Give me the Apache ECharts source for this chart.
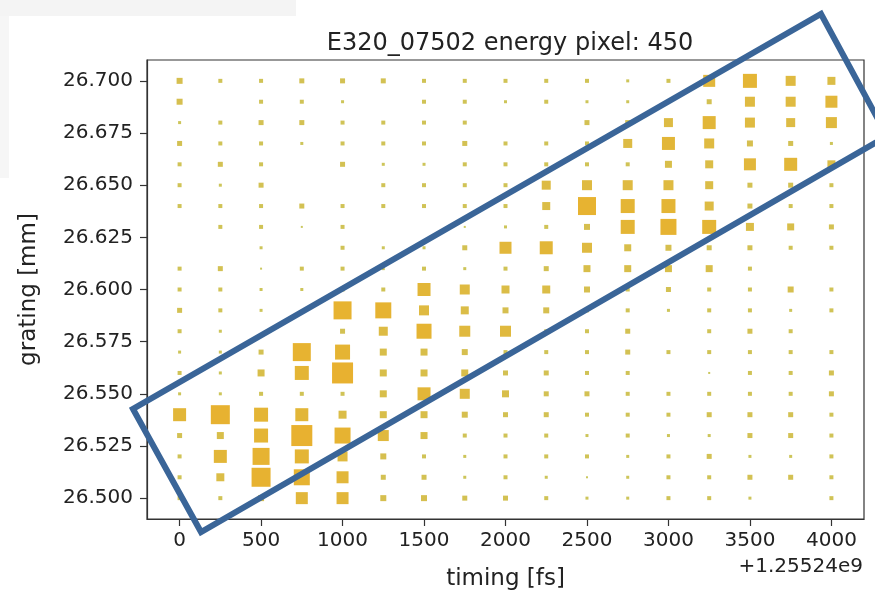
<!DOCTYPE html>
<html>
<head>
<meta charset="utf-8">
<script src="https://cdn.jsdelivr.net/npm/echarts@6/dist/echarts.min.js"></script>
<style>
html,body{margin:0;padding:0;background:#fff;}
#chart{width:875px;height:596px;}
</style>
</head>
<body>
<div id="chart"></div>
<script>
// timing offsets [fs] (relative to +1.25524e9)
const timing = [0, 250, 500, 750, 1000, 1250, 1500, 1750, 2000, 2250, 2500, 2750, 3000, 3250, 3500, 3750, 4000];
// grating positions [mm], top row first
const grating = [26.70, 26.69, 26.68, 26.67, 26.66, 26.65, 26.64, 26.63, 26.62, 26.61, 26.60,
                 26.59, 26.58, 26.57, 26.56, 26.55, 26.54, 26.53, 26.52, 26.51, 26.50];
// relative signal per (grating row, timing column); 0 = no marker
const signal = [
  [5,3,3,4,4,4,3,3,3,3,3,2,3,11,13,9,7],
  [5,0,3,3,2,0,3,3,2,3,2,2,0,4,9,9,11],
  [2,3,4,4,3,3,3,3,0,0,4,4,8,12,9,8,10],
  [4,3,3,2,3,3,3,4,3,3,3,8,12,9,5,4,2],
  [3,4,3,0,4,2,2,3,3,3,3,3,6,7,11,12,7],
  [3,2,4,0,0,3,3,3,3,8,9,9,9,7,4,4,3],
  [3,3,3,4,3,3,3,3,3,7,17,13,13,8,4,3,3],
  [0,3,3,1,3,0,0,1,2,3,5,13,15,13,7,6,4],
  [0,0,2,0,3,2,2,4,11,12,9,6,5,4,4,3,3],
  [3,4,1,3,3,2,3,2,3,4,6,6,6,6,3,0,0],
  [3,3,2,2,3,3,12,9,7,7,5,3,4,3,3,5,3],
  [4,3,2,1,17,15,9,7,5,5,3,3,2,3,3,2,3],
  [3,2,0,0,4,8,14,10,10,3,3,4,0,3,4,3,0],
  [2,2,4,17,14,6,6,5,3,3,3,4,3,3,3,3,3],
  [3,2,6,13,20,6,6,6,4,4,3,3,0,1,3,3,4],
  [2,2,3,3,3,6,12,9,6,4,4,3,3,3,3,3,4],
  [12,18,13,12,7,6,6,5,4,4,3,3,3,4,4,4,3],
  [4,6,13,20,15,10,6,3,3,3,2,3,2,2,4,4,3],
  [3,12,16,13,9,5,3,2,3,3,3,2,3,4,2,2,3],
  [3,7,18,15,11,4,4,2,3,2,1,2,3,3,4,4,3],
  [3,3,5,11,11,5,5,4,4,3,2,2,3,3,2,0,3]
];
const xTicks = [0, 500, 1000, 1500, 2000, 2500, 3000, 3500, 4000];
const yTicks = [26.500, 26.525, 26.550, 26.575, 26.600, 26.625, 26.650, 26.675, 26.700];

const points = [];
grating.forEach((g, r) => {
  timing.forEach((t, c) => {
    const v = signal[r][c];
    if (v > 0) points.push([t, g, v]);
  });
});

const FONT = 'DejaVu Sans';
const chart = echarts.init(document.getElementById('chart'), null, {renderer: 'canvas'});
chart.setOption({
  backgroundColor: '#ffffff',
  animation: false,
  title: {
    text: 'E320_07502 energy pixel: 450',
    left: 505, top: 27, textAlign: 'center',
    textStyle: {fontFamily: FONT, fontSize: 24, fontWeight: 'normal', color: '#222'}
  },
  grid: {left: 147, right: 11, top: 60, bottom: 73, show: true, borderColor: '#333', borderWidth: 1.2, backgroundColor: 'transparent'},
  xAxis: {
    type: 'value', min: -200, max: 4200,
    name: 'timing [fs]', nameLocation: 'middle', nameGap: 49,
    nameTextStyle: {fontFamily: FONT, fontSize: 23, color: '#222'},
    axisLine: {show: true, onZero: false, lineStyle: {color: '#333', width: 1.2}},
    axisTick: {show: true, length: 7, lineStyle: {color: '#333', width: 1.2}, customValues: xTicks},
    axisLabel: {fontFamily: FONT, fontSize: 20, color: '#222', margin: 12, customValues: xTicks,
      formatter: v => String(Math.round(v))},
    splitLine: {show: false}
  },
  yAxis: {
    type: 'value', min: 26.49, max: 26.71,
    name: 'grating [mm]', nameLocation: 'middle', nameGap: 106,
    nameTextStyle: {fontFamily: FONT, fontSize: 23, color: '#222'},
    axisLine: {show: true, onZero: false, lineStyle: {color: '#333', width: 1.2}},
    axisTick: {show: true, length: 7, lineStyle: {color: '#333', width: 1.2}, customValues: yTicks},
    axisLabel: {fontFamily: FONT, fontSize: 20, color: '#222', margin: 14, customValues: yTicks,
      formatter: v => Number(v).toFixed(3)},
    splitLine: {show: false}
  },
  visualMap: {
    show: false, type: 'continuous', dimension: 2, min: 1, max: 20,
    inRange: {color: ['#c6c250', '#d9b636', '#e3ae22', '#e6aa1e']}
  },
  series: [{
    type: 'scatter',
    symbol: 'rect',
    data: points,
    symbolSize: val => val[2] + 1,
    itemStyle: {opacity: 0.92}
  }],
  graphic: [
    {type: 'rect', shape: {x: 0, y: 0, width: 296, height: 16}, style: {fill: '#f4f4f4'}, silent: true},
    {type: 'rect', shape: {x: 0, y: 16, width: 9, height: 162}, style: {fill: '#f6f6f6'}, silent: true},
    {type: 'text', right: 12, top: 557,
      style: {text: '+1.25524e9', font: '20px "DejaVu Sans"', fill: '#222', textAlign: 'right'}},
    {type: 'polygon', z: 100,
      shape: {points: [[133, 409], [201, 532], [887, 136], [821, 14]]},
      style: {fill: 'none', stroke: '#3a6598', lineWidth: 6, lineJoin: 'miter'}}
  ]
});
</script>
</body>
</html>
